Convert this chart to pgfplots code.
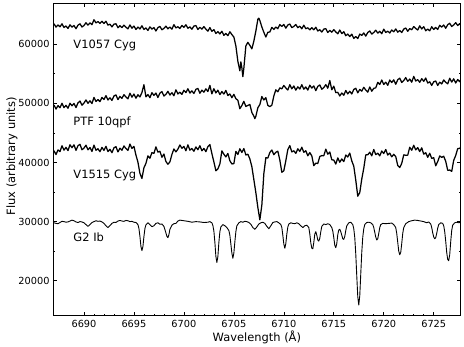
\documentclass[border=0pt]{standalone}
\usepackage{fontspec}
\setmainfont{DejaVu Sans}
\usepackage{pgfplots}
\pgfplotsset{compat=1.18}
\pgfplotsset{spec/.style={black, line width=0.9bp, line join=round, mark=none},
  noisy/.style={black, line width=1.25bp, line join=round, mark=none}}
\begin{document}
\begin{tikzpicture}
\useasboundingbox (0bp,0bp) rectangle (464bp,347bp);
\begin{axis}[
  at={(53bp,31.3bp)}, anchor=south west,
  scale only axis, width=407.7bp, height=312.4bp,
  xmin=6686.9, xmax=6727.7, ymin=14100, ymax=66900,
  xtick={6690,6695,...,6725}, ytick={20000,30000,...,60000},
  scaled x ticks=false, scaled y ticks=false,
  minor x tick num=4, minor y tick num=1,
  major tick length=4bp, minor tick length=2bp,
  tick align=inside,
  axis line style={line width=0.8bp},
  every tick/.style={black, line width=0.6bp},
  /pgf/number format/assume math mode=true,
  /pgf/number format/1000 sep={},
  tick label style={font=\fontsize{9.8}{11}\selectfont},
  xticklabel style={yshift=-1bp},
  label style={font=\fontsize{11.5}{13}\selectfont},
  xlabel={Wavelength (Å)},
  ylabel={Flux (arbitrary units)},
  xlabel style={at={(axis description cs:0.5,-0.069)}, anchor=center},
  ylabel style={at={(axis description cs:-0.1006,0.51)}, anchor=center, rotate=0},
  clip=true,
]
% V1057 Cyg
\addplot[noisy] coordinates {
(6687.0,63450)(6687.2,62870)(6687.4,63250)(6687.6,62920)(6687.8,63440)(6688.0,62810)(6688.2,63070)(6688.4,62650)(6688.6,63260)(6688.8,62870)
(6689.0,63150)(6689.2,62600)(6689.4,63200)(6689.6,63430)(6689.8,62890)(6690.0,63150)(6690.2,63610)(6690.4,63210)(6690.6,63590)(6690.8,63280)
(6691.0,64120)(6691.2,63590)(6691.4,63820)(6691.6,63500)(6691.8,63860)(6692.0,63490)(6692.2,63870)(6692.4,63200)(6692.6,63370)(6692.8,62910)
(6693.0,63380)(6693.2,63440)(6693.4,62770)(6693.6,63120)(6693.8,62800)(6694.0,63210)(6694.2,62860)(6694.4,62580)(6694.6,63250)(6694.8,62690)
(6695.0,63050)(6695.2,62480)(6695.4,62880)(6695.6,62560)(6695.8,63100)(6696.0,62480)(6696.2,62740)(6696.4,62310)(6696.6,62920)(6696.8,62530)
(6697.0,62800)(6697.2,62220)(6697.4,62790)(6697.6,62990)(6697.8,62420)(6698.0,62650)(6698.2,63040)(6698.4,62580)(6698.6,62890)(6698.8,62520)
(6699.0,63290)(6699.2,62740)(6699.4,62940)(6699.6,62640)(6699.8,63160)(6700.0,62840)(6700.2,63280)(6700.4,62680)(6700.6,62910)(6700.8,62520)
(6701.0,63050)(6701.2,63130)(6701.4,62470)(6701.6,62840)(6701.8,62530)(6702.0,62960)(6702.2,62540)(6702.4,62190)(6702.6,62790)(6702.8,62160)
(6703.0,62450)(6703.2,61800)(6703.4,62120)(6703.6,61720)(6703.8,62180)(6704.0,61480)(6704.2,61800)(6704.4,61430)(6704.6,62100)(6704.8,61610)
(6705.0,61200)(6705.2,59700)(6705.4,57100)(6705.6,55500)(6705.7,57000)(6705.8,56000)(6705.9,54500)(6706.0,55950)(6706.2,59700)(6706.4,60300)
(6706.6,59800)(6706.8,59200)(6707.0,60500)(6707.2,62200)(6707.4,64200)(6707.5,64380)(6707.6,64000)(6707.8,62900)(6708.0,62000)(6708.2,61200)
(6708.4,62000)(6708.6,62050)(6708.8,62830)(6709.0,62480)(6709.2,62890)(6709.4,62610)(6709.6,63310)(6709.8,62990)(6710.0,63320)(6710.2,62700)
(6710.4,63230)(6710.6,63400)(6710.8,62790)(6711.0,62980)(6711.2,63310)(6711.4,62780)(6711.6,63030)(6711.8,62590)(6712.0,63200)(6712.2,62600)
(6712.4,62760)(6712.6,62410)(6712.8,62780)(6713.0,62420)(6713.2,62850)(6713.4,62220)(6713.6,62440)(6713.8,62030)(6714.0,62540)(6714.2,62620)
(6714.4,61960)(6714.6,62330)(6714.8,62020)(6715.0,62450)(6715.2,62060)(6715.4,61740)(6715.6,62380)(6715.8,61780)(6716.0,62100)(6716.2,61420)
(6716.4,61700)(6716.6,61270)(6716.8,61690)(6717.0,60960)(6717.2,61270)(6717.4,60930)(6717.6,61700)(6717.8,61470)(6718.0,61890)(6718.2,61350)
(6718.4,61970)(6718.6,62220)(6718.8,61690)(6719.0,61970)(6719.2,62350)(6719.4,61860)(6719.6,62160)(6719.8,61760)(6720.0,62520)(6720.2,61970)
(6720.4,62180)(6720.6,61880)(6720.8,62390)(6721.0,62080)(6721.2,62570)(6721.4,62020)(6721.6,62300)(6721.8,61960)(6722.0,62540)(6722.2,62720)
(6722.4,62170)(6722.6,62630)(6722.8,62430)(6723.0,62960)(6723.2,62640)(6723.4,62390)(6723.6,63090)(6723.8,62560)(6724.0,62950)(6724.2,62260)
(6724.4,62550)(6724.6,62250)(6724.8,62940)(6725.0,62480)(6725.2,62830)(6725.4,62480)(6725.6,63180)(6725.8,62870)(6726.0,63230)(6726.2,62680)
(6726.4,63290)(6726.6,63520)(6726.8,62980)(6727.0,63240)(6727.2,63630)(6727.4,63150)(6727.6,63460)(6727.7,63200)
};
% PTF 10qpf
\addplot[noisy] coordinates {
(6687.0,49710)(6687.2,49020)(6687.4,49610)(6687.6,49250)(6687.8,50010)(6688.0,49260)(6688.2,49660)(6688.4,49160)(6688.6,50010)(6688.8,49570)
(6689.0,49980)(6689.2,49280)(6689.4,50070)(6689.6,50380)(6689.8,49680)(6690.0,50030)(6690.2,50570)(6690.4,49990)(6690.6,50420)(6690.8,49950)
(6691.0,50990)(6691.2,50310)(6691.4,50630)(6691.6,50280)(6691.8,51000)(6692.0,50640)(6692.2,51290)(6692.4,50560)(6692.6,50930)(6692.8,50480)
(6693.0,51240)(6693.2,51410)(6693.4,50620)(6693.6,51170)(6693.8,50840)(6694.0,51460)(6694.2,51060)(6694.4,50760)(6694.6,51700)(6694.8,51030)
(6695.0,51560)(6695.2,50860)(6695.4,51440)(6695.6,51070)(6695.8,51820)(6696.0,53150)(6696.2,51080)(6696.4,51470)(6696.6,50950)(6696.8,51790)
(6697.0,51330)(6697.2,51730)(6697.4,50980)(6697.6,51720)(6697.8,51980)(6698.0,51230)(6698.2,51520)(6698.4,52020)(6698.6,51390)(6698.8,51790)
(6699.0,51270)(6699.2,52280)(6699.4,51580)(6699.6,51870)(6699.8,51510)(6700.0,52200)(6700.2,51810)(6700.4,52460)(6700.6,51730)(6700.8,52100)
(6701.0,51650)(6701.2,52360)(6701.4,52510)(6701.6,51700)(6701.8,52220)(6702.0,51870)(6702.2,52440)(6702.4,51980)(6702.6,53030)(6702.8,51590)
(6703.0,52470)(6703.2,51750)(6703.4,52220)(6703.6,51470)(6703.8,51980)(6704.0,51560)(6704.2,52180)(6704.4,51310)(6704.6,51580)(6704.8,50940)
(6705.0,51510)(6705.2,50780)(6705.4,50510)(6705.6,49080)(6705.8,49630)(6706.0,50330)(6706.2,49460)(6706.4,49630)(6706.6,49800)(6706.8,48450)
(6707.0,47820)(6707.1,47400)(6707.2,47800)(6707.4,49250)(6707.6,49790)(6707.8,51140)(6708.0,50560)(6708.2,50960)(6708.4,49640)(6708.6,49440)
(6708.8,49670)(6709.0,51230)(6709.2,52280)(6709.4,51950)(6709.6,52610)(6709.8,52440)(6710.0,53020)(6710.2,52590)(6710.4,52250)(6710.6,53140)
(6710.8,52440)(6711.0,52930)(6711.2,52220)(6711.4,52790)(6711.6,52410)(6711.8,53140)(6712.0,52380)(6712.2,52760)(6712.4,52230)(6712.6,53060)
(6712.8,52570)(6713.0,52940)(6713.2,52140)(6713.4,52850)(6713.6,53110)(6713.8,52370)(6714.0,52660)(6714.2,53160)(6714.4,52550)(6714.6,53850)
(6714.8,52280)(6715.0,52900)(6715.2,51800)(6715.4,51850)(6715.6,51240)(6715.8,51740)(6716.0,51360)(6716.2,52160)(6716.4,51590)(6716.6,52030)
(6716.8,51580)(6717.0,52340)(6717.2,52530)(6717.4,51770)(6717.6,52340)(6717.8,52050)(6718.0,52700)(6718.2,52240)(6718.4,51880)(6718.6,52760)
(6718.8,52040)(6719.0,52530)(6719.2,52610)(6719.4,53540)(6719.6,53180)(6719.8,53930)(6720.0,53180)(6720.2,53570)(6720.4,53040)(6720.6,53930)
(6720.8,53510)(6721.0,53960)(6721.2,53220)(6721.4,53980)(6721.6,54250)(6721.8,53520)(6722.0,53830)(6722.2,54340)(6722.4,53710)(6722.6,54090)
(6722.8,53570)(6723.0,54550)(6723.2,53770)(6723.4,53990)(6723.6,53550)(6723.8,54170)(6724.0,53710)(6724.2,54270)(6724.4,53430)(6724.6,53630)
(6724.8,53020)(6725.0,53630)(6725.2,53770)(6725.4,53010)(6725.6,53570)(6725.8,53270)(6726.0,53940)(6726.2,53560)(6726.4,53280)(6726.6,54230)
(6726.8,53580)(6727.0,54130)(6727.2,53430)(6727.4,54010)(6727.6,53650)(6727.7,54000)
};
% V1515 Cyg
\addplot[noisy] coordinates {
(6687.0,41990)(6687.2,41330)(6687.4,42120)(6687.6,41830)(6687.8,42820)(6688.0,42080)(6688.2,42550)(6688.4,42000)(6688.6,42990)(6688.8,42490)
(6689.0,42980)(6689.2,42040)(6689.4,42830)(6689.6,43070)(6689.8,42150)(6690.0,42420)(6690.2,42920)(6690.4,42130)(6690.6,42520)(6690.8,41860)
(6691.0,42930)(6691.2,42060)(6691.4,42320)(6691.6,41820)(6691.8,42550)(6692.0,42040)(6692.2,42720)(6692.4,41840)(6692.6,42220)(6692.8,41650)
(6693.0,42470)(6693.2,42670)(6693.4,41780)(6693.6,42420)(6693.8,42060)(6694.0,42790)(6694.2,42350)(6694.4,42030)(6694.6,43110)(6694.8,42370)
(6695.0,42720)(6695.2,41250)(6695.4,40050)(6695.6,38150)(6695.8,37300)(6696.0,39100)(6696.2,39850)(6696.4,41120)(6696.6,40710)(6696.8,41660)
(6697.0,41530)(6697.2,42640)(6697.4,41740)(6697.6,41890)(6697.8,40880)(6698.0,41420)(6698.2,40160)(6698.4,39700)(6698.6,40100)(6698.8,41350)
(6699.0,42280)(6699.2,41790)(6699.4,42250)(6699.6,42960)(6699.8,42390)(6700.0,42710)(6700.2,41980)(6700.4,42980)(6700.6,42080)(6700.8,42360)
(6701.0,41880)(6701.2,42630)(6701.4,42140)(6701.6,42830)(6701.8,41970)(6702.0,42370)(6702.2,41830)(6702.4,42670)(6702.6,43030)(6702.8,41500)
(6703.0,40100)(6703.2,38600)(6703.4,38900)(6703.6,39750)(6703.8,41960)(6704.0,41390)(6704.2,40940)(6704.4,41530)(6704.6,40290)(6704.8,39750)
(6705.0,39800)(6705.2,41870)(6705.4,41350)(6705.6,42310)(6705.8,41690)(6706.0,42350)(6706.2,41270)(6706.4,41390)(6706.6,40600)(6706.8,39300)
(6707.0,37100)(6707.2,34900)(6707.4,32400)(6707.6,30300)(6707.8,32800)(6708.0,38100)(6708.2,40800)(6708.4,40750)(6708.6,41690)(6708.8,42100)
(6709.0,41310)(6709.2,41720)(6709.4,41910)(6709.6,40410)(6709.8,38340)(6710.0,38600)(6710.2,40300)(6710.4,42190)(6710.6,42840)(6710.8,41780)
(6711.0,41980)(6711.2,41530)(6711.4,42310)(6711.6,41860)(6711.8,42570)(6712.0,41720)(6712.2,41980)(6712.4,41130)(6712.6,41670)(6712.8,41110)
(6713.0,39460)(6713.2,39880)(6713.4,39830)(6713.6,41010)(6713.8,41160)(6714.0,41140)(6714.2,42250)(6714.4,41390)(6714.6,41770)(6714.8,40450)
(6715.0,40410)(6715.2,39720)(6715.4,40770)(6715.6,40040)(6715.8,40600)(6716.0,40140)(6716.2,41260)(6716.4,40920)(6716.6,41590)(6716.8,40260)
(6717.0,39380)(6717.2,37000)(6717.4,34300)(6717.6,34900)(6717.8,37200)(6718.0,39020)(6718.2,41280)(6718.4,41290)(6718.6,41730)(6718.8,41120)
(6719.0,42200)(6719.2,41320)(6719.4,41570)(6719.6,41110)(6719.8,41930)(6720.0,41510)(6720.2,42190)(6720.4,41250)(6720.6,41580)(6720.8,40950)
(6721.0,41370)(6721.2,41000)(6721.4,39470)(6721.6,39140)(6721.8,39850)(6722.0,41290)(6722.2,41210)(6722.4,41240)(6722.6,42570)(6722.8,42060)
(6723.0,42910)(6723.2,42120)(6723.4,42510)(6723.6,41840)(6723.8,42470)(6724.0,41400)(6724.2,41650)(6724.4,40870)(6724.6,41560)(6724.8,40680)
(6725.0,40800)(6725.2,39440)(6725.4,40150)(6725.6,41100)(6725.8,40860)(6726.0,41050)(6726.2,40200)(6726.4,38670)(6726.6,38720)(6726.8,38490)
(6727.0,40360)(6727.2,41180)(6727.4,42340)(6727.6,42380)(6727.7,42600)
};
% G2 Ib
\addplot[spec] coordinates {
(6687.0,29800)(6687.2,29700)(6687.4,29650)(6687.6,29850)(6687.8,30050)(6688.0,30000)(6688.2,29900)(6688.4,29950)(6688.6,30100)(6688.8,30250)
(6689.0,30150)(6689.2,29950)(6689.4,29850)(6689.6,30000)(6689.8,29950)(6690.0,29800)(6690.2,29500)(6690.4,29200)(6690.6,29500)(6690.8,29850)
(6691.0,30000)(6691.2,30150)(6691.4,30050)(6691.6,30100)(6691.8,29950)(6692.0,29700)(6692.2,29300)(6692.4,29000)(6692.6,29350)(6692.8,29700)
(6693.0,29900)(6693.2,29850)(6693.4,30100)(6693.6,30200)(6693.8,30100)(6694.0,30050)(6694.2,30200)(6694.4,30150)(6694.6,30000)(6694.8,30050)
(6695.0,29900)(6695.2,29850)(6695.4,29500)(6695.5,28840)(6695.6,27500)(6695.7,25800)(6695.8,25100)(6695.9,25800)(6696.0,27500)(6696.1,28840)
(6696.2,29450)(6696.4,29800)(6696.6,29500)(6696.8,29150)(6697.0,29300)(6697.2,29700)(6697.4,29800)(6697.6,29550)(6697.8,29600)(6698.0,29200)
(6698.2,28100)(6698.3,27500)(6698.4,27300)(6698.5,27800)(6698.6,28700)(6698.8,29400)(6699.0,29650)(6699.2,29700)(6699.4,30100)(6699.6,30250)
(6699.8,30200)(6700.0,30150)(6700.4,30050)(6700.8,29900)(6701.2,30000)(6701.6,29950)(6702.0,29850)(6702.4,29900)(6702.6,30000)(6702.8,29800)
(6702.9,29350)(6703.0,28400)(6703.1,26500)(6703.2,24100)(6703.3,23100)(6703.4,24100)(6703.5,26500)(6703.6,28300)(6703.7,29100)(6703.9,29500)
(6704.1,29300)(6704.3,29000)(6704.5,28500)(6704.6,27700)(6704.7,26200)(6704.8,24700)(6704.9,23800)(6705.0,24700)(6705.1,26600)(6705.2,28300)
(6705.3,29300)(6705.5,29800)(6705.7,30000)(6705.9,29900)(6706.1,30050)(6706.3,30000)(6706.5,29850)(6706.7,29550)(6706.9,29000)(6707.1,28700)
(6707.3,29100)(6707.5,29600)(6707.7,29800)(6707.9,29900)(6708.1,29700)(6708.3,29200)(6708.5,28800)(6708.7,29300)(6708.9,29850)(6709.1,29950)
(6709.3,30000)(6709.5,29800)(6709.7,29500)(6709.8,29000)(6709.9,27700)(6710.0,26200)(6710.1,25500)(6710.2,26300)(6710.3,27900)(6710.4,29100)
(6710.5,29600)(6710.7,29800)(6710.9,29700)(6711.1,29650)(6711.3,29800)(6711.5,29650)(6711.7,29300)(6711.9,29000)(6712.1,29300)(6712.3,29400)
(6712.5,29000)(6712.6,27900)(6712.7,26400)(6712.8,25500)(6712.9,25400)(6713.0,26500)(6713.1,27900)(6713.2,28300)(6713.3,27700)(6713.4,26900)
(6713.5,26700)(6713.6,27200)(6713.7,28300)(6713.8,29200)(6714.0,29600)(6714.2,29500)(6714.4,29650)(6714.6,29500)(6714.8,29000)(6714.9,28400)
(6715.0,27300)(6715.1,26000)(6715.2,25600)(6715.3,26300)(6715.4,27800)(6715.5,28600)(6715.6,28700)(6715.7,28300)(6715.8,27700)(6715.9,27100)
(6716.0,27000)(6716.1,27500)(6716.2,28500)(6716.3,29300)(6716.5,29800)(6716.7,29900)(6716.9,29500)(6717.0,28800)(6717.1,27300)(6717.2,24500)
(6717.3,20800)(6717.4,17300)(6717.5,15900)(6717.6,17500)(6717.7,21200)(6717.8,24800)(6717.9,27400)(6718.0,28800)(6718.1,29500)(6718.3,29850)
(6718.5,29900)(6718.7,29800)(6718.9,29500)(6719.0,29000)(6719.1,28200)(6719.2,27400)(6719.3,26900)(6719.4,27100)(6719.5,28000)(6719.6,29000)
(6719.7,29500)(6719.9,29700)(6720.2,29650)(6720.5,29700)(6720.8,29750)(6721.0,29500)(6721.2,29000)(6721.3,28000)(6721.4,26500)(6721.5,25000)
(6721.6,24400)(6721.7,24800)(6721.8,26300)(6721.9,28000)(6722.0,29000)(6722.2,29650)(6722.5,30000)(6722.8,30150)(6723.1,30250)(6723.4,30200)
(6723.7,30100)(6724.0,30000)(6724.3,29800)(6724.5,29950)(6724.7,29600)(6724.8,29000)(6724.9,28100)(6725.0,27400)(6725.1,27100)(6725.2,27300)
(6725.3,28000)(6725.4,28900)(6725.5,29500)(6725.7,29800)(6725.9,29700)(6726.0,29300)(6726.1,28300)(6726.2,26700)(6726.3,24800)(6726.4,23600)
(6726.5,23400)(6726.6,24400)(6726.7,26600)(6726.8,28500)(6726.9,29400)(6727.1,29800)(6727.3,29900)(6727.5,29800)(6727.7,29900)
};
\node[anchor=base west, inner sep=0pt, font=\fontsize{11.5}{13}\selectfont] at (axis cs:6688.93,59270) {V1057 Cyg};
\node[anchor=base west, inner sep=0pt, font=\fontsize{11.5}{13}\selectfont] at (axis cs:6688.93,46330) {PTF 10qpf};
\node[anchor=base west, inner sep=0pt, font=\fontsize{11.5}{13}\selectfont] at (axis cs:6688.93,37320) {V1515 Cyg};
\node[anchor=base west, inner sep=0pt, font=\fontsize{11.5}{13}\selectfont] at (axis cs:6688.93,26670) {G2 Ib};
\end{axis}
\end{tikzpicture}
\end{document}
